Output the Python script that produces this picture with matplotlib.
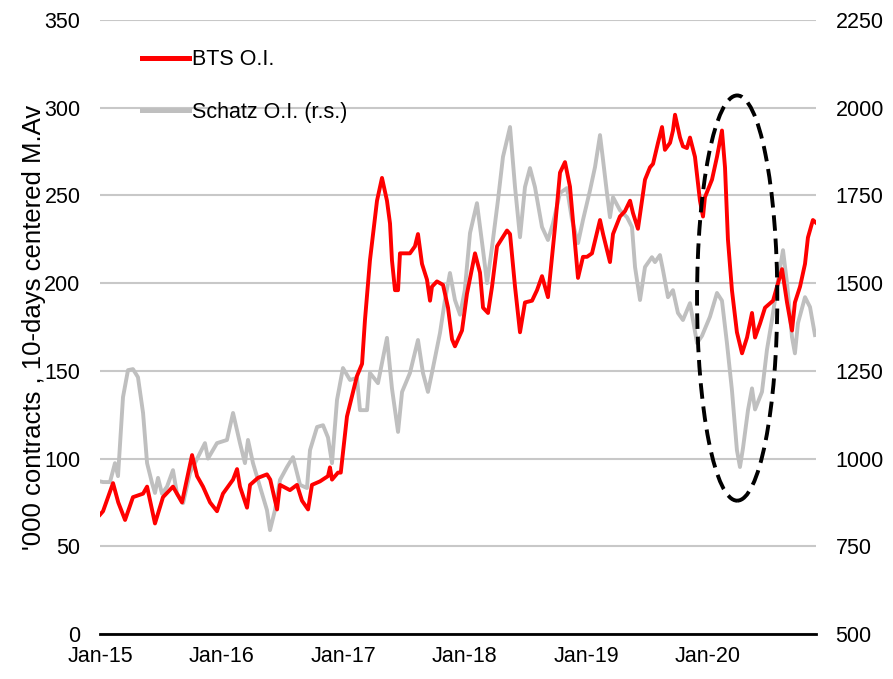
import numpy as np
import matplotlib
matplotlib.use('Agg')
import matplotlib.pyplot as plt
from matplotlib.patches import Ellipse

plt.rcParams['font.family'] = ['Liberation Sans', 'DejaVu Sans']
FS = 15.5

## time in years after Jan-15
bts_t = [0.00, 0.025, 0.107, 0.15, 0.206, 0.271, 0.354, 0.387, 0.452, 0.518, 0.60, 0.674, 0.757, 0.798,
         0.847, 0.905, 0.962, 1.011, 1.094, 1.127, 1.151, 1.209, 1.234, 1.299, 1.373, 1.40, 1.456, 1.48,
         1.562, 1.62, 1.661, 1.711, 1.743, 1.809, 1.875, 1.891, 1.908, 1.957, 1.98, 2.031, 2.113, 2.155,
         2.179, 2.22, 2.278, 2.319, 2.36, 2.385, 2.401, 2.426, 2.451, 2.467, 2.549, 2.59, 2.615, 2.648,
         2.689, 2.714, 2.73, 2.771, 2.821, 2.862, 2.895, 2.919, 2.977, 3.018, 3.084, 3.125, 3.15, 3.191,
         3.224, 3.265, 3.347, 3.372, 3.413, 3.454, 3.495, 3.553, 3.594, 3.635, 3.684, 3.742, 3.783, 3.824,
         3.865, 3.906, 3.931, 3.972, 4.005, 4.046, 4.112, 4.137, 4.194, 4.219, 4.276, 4.317, 4.359, 4.383,
         4.424, 4.482, 4.523, 4.548, 4.589, 4.622, 4.646, 4.688, 4.712, 4.729, 4.77, 4.794, 4.827, 4.852,
         4.893, 4.934, 4.959, 4.975, 5.033, 5.074, 5.115, 5.14, 5.164, 5.197, 5.238, 5.28, 5.321, 5.362,
         5.387, 5.428, 5.469, 5.535, 5.576, 5.609, 5.65, 5.691, 5.715, 5.757, 5.798, 5.822, 5.863, 5.896]
bts_oi = [68, 70, 86, 75, 65, 78, 80, 84, 63, 78, 84, 75, 102, 90,
          84, 75, 70, 80, 88, 94, 84, 72, 85, 89, 91, 88, 71, 85,
          82, 85, 76, 71, 85, 87, 90, 95, 88, 92, 92, 124, 147, 154,
          179, 213, 247, 260, 247, 234, 213, 196, 196, 217, 217, 221, 228, 211,
          202, 190, 198, 201, 199, 186, 168, 164, 173, 194, 217, 206, 186, 183,
          198, 221, 230, 228, 198, 172, 189, 190, 196, 204, 192, 232, 263, 269,
          255, 223, 203, 215, 215, 217, 236, 228, 212, 228, 238, 241, 247, 240,
          231, 259, 266, 268, 280, 289, 276, 280, 287, 296, 283, 278, 277, 283,
          272, 247, 238, 249, 259, 272, 287, 266, 225, 196, 172, 160, 169, 183,
          169, 177, 186, 190, 200, 208, 189, 173, 189, 198, 211, 226, 236, 234]

schatz_t = [0.00, 0.025, 0.082, 0.123, 0.148, 0.189, 0.23, 0.271, 0.312, 0.354, 0.387, 0.428, 0.452,
            0.477, 0.51, 0.551, 0.60, 0.633, 0.683, 0.74, 0.822, 0.863, 0.888, 0.962, 1.044, 1.094,
            1.151, 1.192, 1.217, 1.258, 1.316, 1.373, 1.398, 1.439, 1.48, 1.538, 1.587, 1.645, 1.702,
            1.727, 1.785, 1.834, 1.875, 1.908, 1.949, 1.998, 2.056, 2.113, 2.138, 2.196, 2.22, 2.286,
            2.36, 2.401, 2.451, 2.484, 2.549, 2.615, 2.656, 2.697, 2.738, 2.796, 2.837, 2.878, 2.919,
            2.961, 3.00, 3.043, 3.10, 3.15, 3.183, 3.224, 3.273, 3.314, 3.372, 3.413, 3.454, 3.495,
            3.536, 3.577, 3.635, 3.684, 3.725, 3.783, 3.84, 3.882, 3.931, 3.972, 4.03, 4.071, 4.112,
            4.137, 4.169, 4.194, 4.219, 4.276, 4.334, 4.375, 4.40, 4.441, 4.482, 4.539, 4.564, 4.605,
            4.63, 4.671, 4.712, 4.753, 4.794, 4.852, 4.91, 4.951, 5.016, 5.074, 5.115, 5.156, 5.197,
            5.238, 5.263, 5.288, 5.329, 5.362, 5.387, 5.444, 5.485, 5.526, 5.576, 5.617, 5.65, 5.691,
            5.715, 5.74, 5.798, 5.839, 5.88]
schatz_oi = [935, 933, 933, 987, 950, 1175, 1252, 1255, 1232, 1130, 987, 930, 902,
             945, 900, 920, 967, 900, 873, 959, 1016, 1044, 1000, 1044, 1053, 1130,
             1044, 987, 1053, 987, 919, 853, 796, 853, 939, 976, 1004, 925, 916,
             1024, 1090, 1095, 1060, 987, 1167, 1258, 1224, 1230, 1138, 1138, 1244, 1215,
             1344, 1200, 1076, 1190, 1244, 1338, 1244, 1190, 1258, 1358, 1452, 1529, 1452,
             1410, 1480, 1643, 1728, 1594, 1500, 1603, 1737, 1860, 1945, 1774, 1631, 1774,
             1828, 1774, 1660, 1623, 1670, 1757, 1771, 1680, 1614, 1680, 1765, 1831, 1922,
             1851, 1757, 1688, 1745, 1708, 1688, 1660, 1546, 1452, 1546, 1574, 1560, 1580,
             1537, 1460, 1480, 1415, 1395, 1443, 1329, 1350, 1404, 1472, 1450, 1329, 1195,
             1024, 976, 1030, 1138, 1200, 1140, 1190, 1310, 1395, 1509, 1594, 1500, 1346,
             1300, 1386, 1460, 1432, 1352]

x_ticks = [2015, 2016, 2017, 2018, 2019, 2020]
x_labels = ['Jan-15', 'Jan-16', 'Jan-17', 'Jan-18', 'Jan-19', 'Jan-20']
left_ticks = [0, 50, 100, 150, 200, 250, 300, 350]
right_ticks = [500, 750, 1000, 1250, 1500, 1750, 2000, 2250]

RED = '#ff0000'
GREY = '#bfbfbf'

fig = plt.figure(figsize=(8.93, 6.79), dpi=100)
ax = fig.add_axes([0.112, 0.0663, 0.802, 0.9042])
ax2 = ax.twinx()

## grey series + grid on the right axis (drawn underneath)
line_s, = ax2.plot(2015 + np.array(schatz_t), schatz_oi, color=GREY, lw=2.8,
                   solid_joinstyle='round', label='Schatz O.I. (r.s.)')
ax2.set_ylim(500, 2250)
ax2.set_yticks(right_ticks)
ax2.grid(axis='y', color='#c8c8c8', lw=1.5)
ax2.set_axisbelow(True)

## red series on the left axis, on top
line_b, = ax.plot(2015 + np.array(bts_t), bts_oi, color=RED, lw=2.8,
                  solid_joinstyle='round', label='BTS O.I.')
ax.set_ylim(0, 350)
ax.set_yticks(left_ticks)
ax.set_xlim(2015, 2020.89)
ax.set_xticks(x_ticks)
ax.set_xticklabels(x_labels)
ax.set_zorder(ax2.get_zorder() + 1)
ax.patch.set_visible(False)

for a in (ax, ax2):
    for s in ('top', 'left', 'right', 'bottom'):
        a.spines[s].set_visible(False)
    a.tick_params(length=0, labelsize=FS, colors='black')
ax.spines['bottom'].set_visible(True)
ax.spines['bottom'].set_linewidth(2)
ax.tick_params(axis='y', pad=14)
ax.tick_params(axis='x', pad=9)
ax.yaxis.tick_left()
ax2.yaxis.tick_right()
ax2.tick_params(length=0, pad=14)

ax.set_ylabel("'000 contracts , 10-days centered M.Av", fontsize=18.5, labelpad=-1)

## dashed highlight around the 2020 drop
ell = Ellipse((2020.24, 191.5), 0.66, 231, fill=False, edgecolor='black',
              lw=2.8, linestyle=(0, (4, 2)), zorder=5)
ax.add_patch(ell)

leg = ax.legend(handles=[line_b, line_s], loc='upper left', bbox_to_anchor=(0.149, 0.94),
                bbox_transform=fig.transFigure, frameon=False, fontsize=FS,
                handlelength=2.2, handletextpad=0.15, labelspacing=1.45, borderaxespad=0)
for h in leg.get_lines():
    h.set_linewidth(3.6)

fig.savefig('out.png', dpi=100)
